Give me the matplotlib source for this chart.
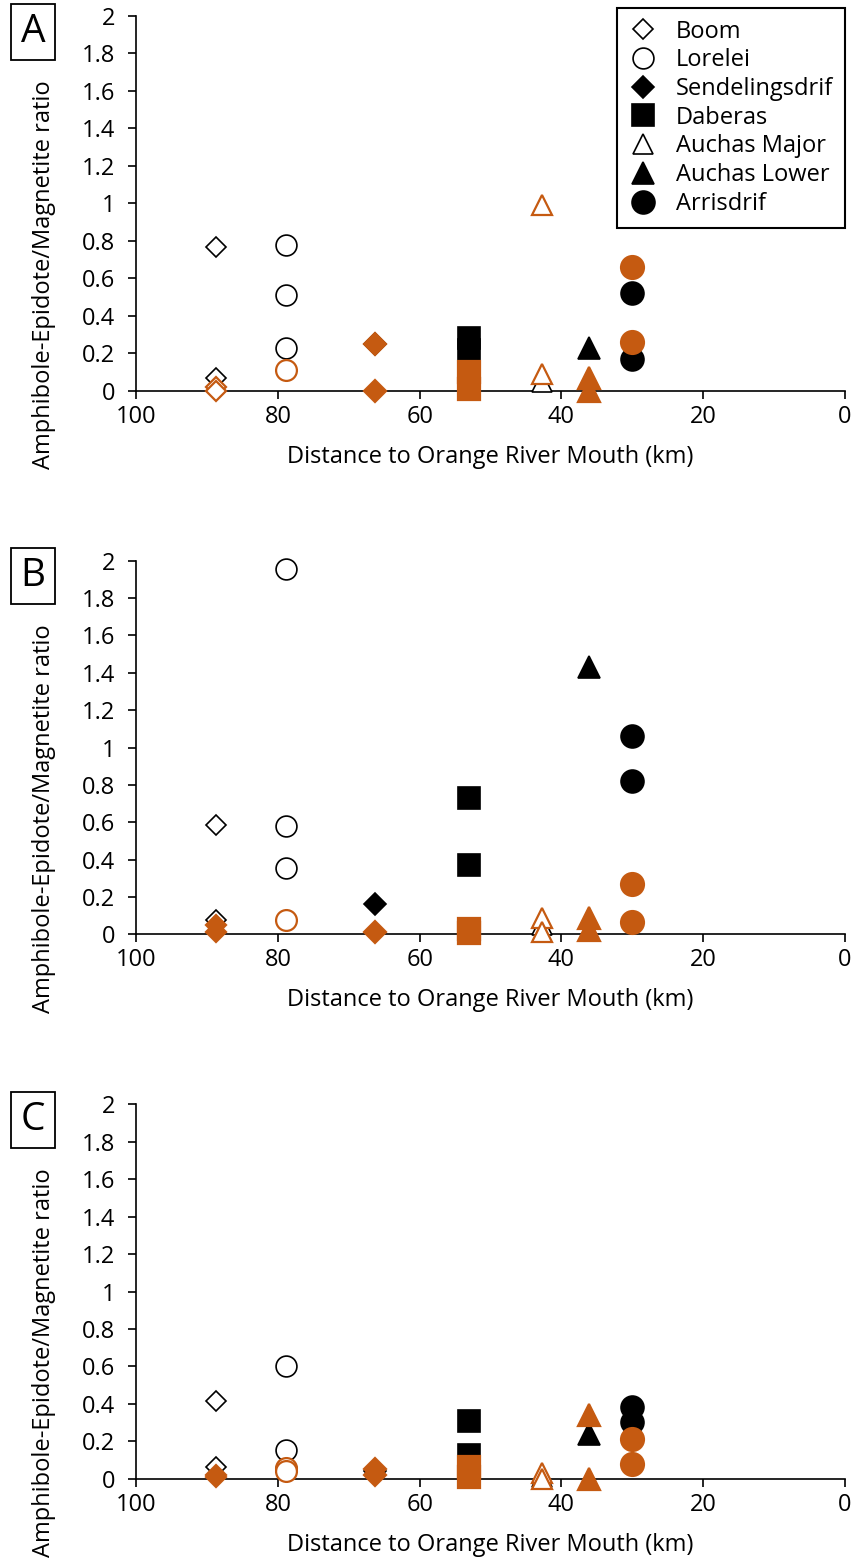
import matplotlib as mpl
import matplotlib.pyplot as plt
from matplotlib.lines import Line2D
from matplotlib.ticker import FuncFormatter

plt.rcParams['font.family'] = ['Open Sans', 'DejaVu Sans']

# sites and their distance to the river mouth (km)
sites = ['Boom', 'Lorelei', 'Sendelingsdrif', 'Daberas', 'Auchas Major', 'Auchas Lower', 'Arrisdrif']
site_km = [88.7, 78.9, 66.3, 53.0, 42.8, 36.1, 30.1]
markers = ['D', 'o', 'D', 's', '^', '^', 'o']
black_fill = ['white', 'white', 'black', 'black', 'white', 'black', 'black']
msizes = [10, 15, 11, 16.5, 15, 16, 16.5]

# ratios read per site, black and orange samples, for panels A, B, C
a_black = [[0.77, 0.07], [0.78, 0.51, 0.23], [0.25], [0.28, 0.22], [0.05], [0.23], [0.52, 0.17]]
a_orange = [[0.02, 0.0], [0.11], [0.25, 0.0], [0.10, 0.01], [0.99, 0.09], [0.07, 0.0], [0.66, 0.26]]
a_orange_open = [True, True, False, False, True, False, False]

b_black = [[0.585, 0.075], [1.955, 0.58, 0.353], [0.16], [0.73, 0.37], [0.05], [1.43], [1.063, 0.82]]
b_orange = [[0.05, 0.01], [0.077], [0.01], [0.03, 0.005], [0.085, 0.01], [0.085, 0.025], [0.27, 0.064]]
b_orange_open = [False, True, False, False, True, False, False]

c_black = [[0.415, 0.065], [0.60, 0.153, 0.05], [0.04], [0.31, 0.125], [0.01], [0.24], [0.385, 0.305]]
c_orange = [[0.02, 0.01], [0.055, 0.04], [0.05, 0.02], [0.065, 0.01], [0.03, 0.0], [0.34, 0.0], [0.21, 0.08]]
c_orange_open = [False, True, False, False, True, False, False]

orange = '#C55A11'
fs = 17

fig = plt.figure(figsize=(8.51, 15.64), dpi=100)

panels = [
    ('A', a_black, a_orange, a_orange_open, [0.160, 0.750, 0.833, 0.2398], 32),
    ('B', b_black, b_orange, b_orange_open, [0.160, 0.4026, 0.833, 0.2389], 576),
    ('C', c_black, c_orange, c_orange_open, [0.160, 0.0545, 0.833, 0.2394], 1120),
]

for name, blk, org, org_open, pos, lab_y in panels:
    ax = fig.add_axes(pos)
    for i in range(len(sites)):
        ax.plot([site_km[i]] * len(blk[i]), blk[i], linestyle='none', marker=markers[i],
                ms=msizes[i], mfc=black_fill[i], mec='black', mew=1.2, clip_on=False, zorder=3)
    for i in range(len(sites)):
        fc = 'white' if org_open[i] else orange
        ax.plot([site_km[i]] * len(org[i]), org[i], linestyle='none', marker=markers[i],
                ms=msizes[i], mfc=fc, mec=orange, mew=1.6, clip_on=False, zorder=4)

    ax.set_xlim(100, 0)
    ax.set_ylim(0, 2)
    ax.set_xticks([100, 80, 60, 40, 20, 0])
    ax.set_yticks([0, 0.2, 0.4, 0.6, 0.8, 1, 1.2, 1.4, 1.6, 1.8, 2])
    ax.yaxis.set_major_formatter(FuncFormatter(lambda v, p: '{:g}'.format(round(v, 1))))
    ax.spines['top'].set_visible(False)
    ax.spines['right'].set_visible(False)
    ax.spines['left'].set_linewidth(1.2)
    ax.spines['bottom'].set_linewidth(1.2)
    ax.tick_params(axis='both', direction='out', length=6, width=1.2, labelsize=fs)
    ax.tick_params(axis='x', pad=4)
    ax.tick_params(axis='y', pad=9)

    ax.set_xlabel('Distance to Orange River Mouth (km)', fontsize=fs)
    ax.xaxis.label.set_va('center')
    ax.xaxis.set_label_coords(0.5, -0.176)
    ax.set_ylabel('Amphibole-Epidote/Magnetite ratio', fontsize=fs)
    ax.yaxis.label.set_va('center')
    ax.yaxis.set_label_coords(-0.13, 0.31)

    fig.text(33 / 851, 1 - lab_y / 1564, name, fontsize=28, ha='center', va='center',
             bbox=dict(boxstyle='square,pad=0.24', fc='white', ec='black', lw=1.3))

    if name == 'A':
        handles = [Line2D([], [], linestyle='none', marker=markers[i], ms=msizes[i],
                          mfc=black_fill[i], mec='black', mew=1.2) for i in range(len(sites))]
        leg = ax.legend(handles, sites, loc='upper right', bbox_to_anchor=(1.0, 1.022),
                        fontsize=fs, frameon=True, fancybox=False, edgecolor='black',
                        framealpha=1, labelspacing=0.2, handletextpad=0.8,
                        handlelength=1.2, borderpad=0.5, borderaxespad=0)
        leg.get_frame().set_linewidth(1.5)

plt.savefig('out.png', dpi=100)
